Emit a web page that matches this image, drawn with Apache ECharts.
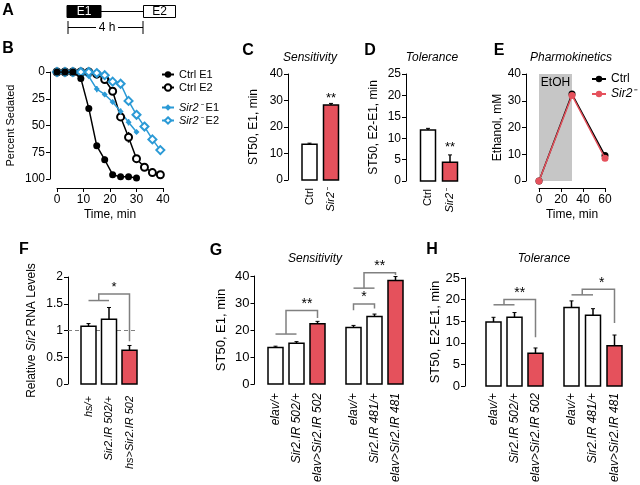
<!DOCTYPE html>
<html><head><meta charset="utf-8">
<script src="https://cdn.jsdelivr.net/npm/echarts@6/dist/echarts.min.js"></script>
<style>html,body{margin:0;padding:0;background:#fff}#c{width:640px;height:485px}</style>
</head><body><div id="c"></div>
<script>
// ---------------- DATA ----------------
// Panel B: percent sedated over time
const bTime = [0,3,6,9,12,15,18,21,24,27,30,33,36,39];
const bCtrlE1 = [0,0,0,6,34,69,82,96,98,98,99];
const bCtrlE1Err = [0,0,0,1,2,2,3,1,0,0,0];
const bCtrlE2 = [0,0,0,0,0,2,7,18,42,61,81,89,94,96];
const bCtrlE2Err = [0,0,0,0,0,0,1,2,2,5,2,1,1,1];
const bSirE1 = [0,0,0,2,4,16,21,28,37,47,56];
const bSirE1Err = [0,0,0,1,1,3,2,2,3,3,2];
const bSirE2 = [0,0,0,0,0,1,3,9,11,27,40,51,63,73];
const bSirE2Err = [0,0,0,0,0,0,1,1,1,2,2,2,2,4];
const bXTicks = [0,10,20,30,40];
const bYTicks = [0,25,50,75,100];
// Panel C: sensitivity
const cCats = ['Ctrl','Sir2⁻'];
const cMean = [13.5, 28.3];
const cErr = [0.4, 0.6];
const cStars = [[1, 30.8, '**']];
// Panel D: tolerance
const dCats = ['Ctrl','Sir2⁻'];
const dMean = [11.9, 4.4];
const dErr = [0.4, 1.7];
const dStars = [[1, 7.9, '**']];
// Panel E: pharmacokinetics
const eTime = [0,30,60];
const eCtrl = [0,32.5,9.5];
const eSir = [0,32,8.5];
const eEtohWindow = [0,30];
// Panel F: relative Sir2 RNA
const fCats = ['hs/+','Sir2.IR 502/+','hs>Sir2.IR 502'];
const fMean = [1.08, 1.21, 0.63];
const fErr = [0.05, 0.22, 0.09];
const fRef = 1;
const fBrackets = [[[0,1.56],[1,1.56]], [[0.5,1.56],[0.5,1.68],[2,1.68],[2,0.80]]];
const fStars = [[1.25, 1.80, '*']];
// Panel G: sensitivity
const gCats1 = ['elav/+','Sir2.IR 502/+','elav>Sir2.IR 502'];
const gMean1 = [13.5, 15.1, 22.3];
const gErr1 = [0.5, 0.6, 0.9];
const gCats2 = ['elav/+','Sir2.IR 481/+','elav>Sir2.IR 481'];
const gMean2 = [20.9, 25.0, 38.3];
const gErr2 = [0.8, 0.9, 1.5];
const gBrackets1 = [[[0,18.5],[1,18.5]], [[0.5,18.5],[0.5,27.2],[2,27.2],[2,24.4]]];
const gStars1 = [[1.5, 29.6, '**']];
const gBrackets2 = [[[0,27.3],[0,29.6],[1,29.6],[1,28.0]], [[0,35.5],[1,35.5]], [[0.5,35.5],[0.5,41.2],[2,41.2],[2,40.4]]];
const gStars2 = [[0.5, 32.0, '*'], [1.25, 43.6, '**']];
// Panel H: tolerance
const hCats1 = ['elav/+','Sir2.IR 502/+','elav>Sir2.IR 502'];
const hMean1 = [14.8, 15.9, 7.6];
const hErr1 = [1.1, 1.1, 1.2];
const hCats2 = ['elav/+','Sir2.IR 481/+','elav>Sir2.IR 481'];
const hMean2 = [18.2, 16.4, 9.3];
const hErr2 = [1.5, 1.5, 2.5];
const hBrackets1 = [[[0,18.8],[1,18.8]], [[0.5,18.8],[0.5,20.0],[2,20.0],[2,11.3]]];
const hStars1 = [[1.25, 21.6, '**']];
const hBrackets2 = [[[0,21.1],[1,21.1]], [[0.5,21.1],[0.5,22.4],[2,22.4],[2,14.6]]];
const hStars2 = [[1.4, 23.9, '*']];

// ---------------- STYLE ----------------
const FF = '"Liberation Sans", Arial, Helvetica, sans-serif';
const BLUE = '#2b9ad6';
const RED = '#e5515c';
const GREY = '#808080';

function rich(fs){ return {i:{fontStyle:'italic', fontSize:fs, fontFamily:FF, color:'#000'}, n:{fontSize:fs, fontFamily:FF, color:'#000'}}; }
function lab(name){ return name === 'Ctrl' ? name : '{i|' + name + '}'; }

function valY(gi, min, max, interval, name, gap, fs, extra){
  return Object.assign({
    type:'value', gridIndex:gi, min:min, max:max, interval:interval,
    name:name, nameLocation:'middle', nameGap:gap, nameRotate:90,
    nameTextStyle:{fontSize:fs, color:'#000', fontFamily:FF, rich:rich(fs)},
    axisLine:{show:true, onZero:false, lineStyle:{color:'#000', width:1}},
    axisTick:{show:true, length:4, lineStyle:{color:'#000', width:1}},
    axisLabel:{fontSize:fs, color:'#000', fontFamily:FF, margin:5},
    splitLine:{show:false}
  }, extra || {});
}
function catX(gi, cats, max, fs, margin){
  return {
    type:'value', gridIndex:gi, min:-1, max:max, interval:1,
    axisLine:{show:false, onZero:false}, axisTick:{show:false}, splitLine:{show:false},
    axisLabel:{rotate:90, margin:margin, fontSize:fs, color:'#000', fontFamily:FF,
      rich:rich(fs),
      formatter:function(v){ return (Number.isInteger(v) && cats[v] !== undefined) ? lab(cats[v]) : ''; }}
  };
}
function barRender(params, api){
  const x = api.value(0), v = api.value(1), e = api.value(2), red = api.value(3);
  const top = api.coord([x, v]), base = api.coord([x, 0]), et = api.coord([x, v + e]);
  const w = 15;
  return {type:'group', children:[
    {type:'line', shape:{x1:top[0], y1:top[1], x2:et[0], y2:et[1]}, style:{stroke:'#000', lineWidth:1.5}},
    {type:'line', shape:{x1:et[0]-2, y1:et[1], x2:et[0]+2, y2:et[1]}, style:{stroke:'#000', lineWidth:1}},
    {type:'rect', shape:{x:top[0]-w/2, y:top[1], width:w, height:base[1]-top[1]},
     style:{fill: red ? RED : '#fff', stroke:'#000', lineWidth:1.5}}
  ]};
}
function barSeries(i, means, errs){
  return {type:'custom', xAxisIndex:i, yAxisIndex:i, z:3, silent:true,
    data: means.map(function(m,k){ return [k, m, errs[k], k === means.length-1 ? 1 : 0]; }),
    renderItem: barRender};
}
function bracketSeries(i, paths){
  return {type:'custom', xAxisIndex:i, yAxisIndex:i, z:2, silent:true, data:[[0,0]],
    renderItem:function(p, api){
      return {type:'group', children: paths.map(function(path){
        return {type:'polyline', shape:{points:path.map(function(pt){ return api.coord(pt); })},
          style:{stroke:GREY, lineWidth:1.5, fill:null}};
      })};
    }};
}
function starSeries(i, stars, fs){
  return {type:'custom', xAxisIndex:i, yAxisIndex:i, z:4, silent:true,
    data: stars.map(function(s,k){ return [s[0], s[1], k]; }),
    renderItem:function(p, api){
      const c = api.coord([api.value(0), api.value(1)]);
      const t = stars[api.value(2)][2];
      return {type:'text', x:c[0], y:c[1], style:{text:t, font:fs+'px '+FF, fill:'#000',
        align:'center', verticalAlign:'middle', textAlign:'center', textVerticalAlign:'middle'}};
    }};
}
function errSeries(i, xs, ys, es, color){
  return {type:'custom', xAxisIndex:i, yAxisIndex:i, z:1, silent:true,
    data: ys.map(function(y,k){ return [xs[k], y, es[k]]; }).filter(function(d){ return d[2] > 0; }),
    renderItem:function(p, api){
      const x = api.value(0), y = api.value(1), e = api.value(2);
      const a = api.coord([x, y - e]), b = api.coord([x, y + e]);
      return {type:'line', shape:{x1:a[0], y1:a[1], x2:b[0], y2:b[1]}, style:{stroke:color, lineWidth:1.5}};
    }};
}
function gtext(x, y, text, font, align){
  return {type:'text', x:x, y:y, silent:true, style:{text:text, font:font, fill:'#000',
    align:align||'center', verticalAlign:'middle', textAlign:align||'center', textVerticalAlign:'middle'}};
}

const grid = [
  {left:57, top:72, width:106, height:107},      // 0 B
  {left:288, top:74, width:55.9, height:106},    // 1 C
  {left:406, top:74, width:57.2, height:107},    // 2 D
  {left:539, top:74, width:66, height:107},      // 3 E
  {left:68, top:277, width:71.75, height:107},   // 4 F
  {left:254.5, top:276, width:75.6, height:108}, // 5 G1
  {left:332.5, top:276, width:75.6, height:108}, // 6 G2
  {left:472.5, top:278, width:75.6, height:108}, // 7 H1
  {left:550, top:278, width:77.4, height:108}    // 8 H2
].map(function(g){ g.outerBoundsMode = 'none'; g.containLabel = false; return g; });

const xAxis = [
  {type:'value', gridIndex:0, position:'bottom', min:bXTicks[0], max:bXTicks[bXTicks.length-1], interval:bXTicks[1]-bXTicks[0], offset:9,
   name:'Time, min', nameLocation:'middle', nameGap:21, nameTextStyle:{fontSize:12, color:'#000', fontFamily:FF},
   axisLine:{onZero:false, lineStyle:{color:'#000'}}, axisTick:{length:4, lineStyle:{color:'#000'}},
   axisLabel:{fontSize:12, color:'#000', fontFamily:FF, margin:6}, splitLine:{show:false}},
  catX(1, cCats, 1.6, 11, 8),
  catX(2, dCats, 1.6, 11, 8),
  {type:'value', gridIndex:3, position:'bottom', min:0, max:60, interval:20, offset:7,
   name:'Time, min', nameLocation:'middle', nameGap:21, nameTextStyle:{fontSize:12, color:'#000', fontFamily:FF},
   axisLine:{onZero:false, lineStyle:{color:'#000'}}, axisTick:{length:4, lineStyle:{color:'#000'}},
   axisLabel:{fontSize:12, color:'#000', fontFamily:FF, margin:6}, splitLine:{show:false}},
  catX(4, fCats, 2.5, 11, 12),
  catX(5, gCats1, 2.6, 12, 9),
  catX(6, gCats2, 2.6, 12, 9),
  catX(7, hCats1, 2.6, 12, 7),
  catX(8, hCats2, 2.6, 12, 7)
];

const yAxis = [
  valY(0, bYTicks[0], bYTicks[bYTicks.length-1], bYTicks[1]-bYTicks[0], 'Percent Sedated', 34, 11, {inverse:true, offset:7, axisLabel:{fontSize:12, color:'#000', fontFamily:FF, margin:5}}),
  valY(1, 0, 40, 10, 'ST50, E1, min', 28, 12),
  valY(2, 0, 25, 5, 'ST50, E2-E1, min', 26, 12),
  valY(3, 0, 40, 10, 'Ethanol, mM', 21, 12, {offset:13}),
  valY(4, 0, 2, 0.5, 'Relative {i|Sir2} RNA Levels', 30, 12),
  valY(5, 0, 40, 10, 'ST50, E1, min', 27, 13),
  valY(6, 0, 40, 10, '', 0, 13, {show:false}),
  valY(7, 0, 25, 5, 'ST50, E2-E1, min', 20, 13, {offset:7.5}),
  valY(8, 0, 25, 5, '', 0, 13, {show:false})
];

function pairs(xs, ys){ return ys.map(function(y,k){ return [xs[k], y]; }); }
function legendFmt(name){ return name.replace(/^(Sir2⁻)/, '{i|$1}'); }
const legendText = {fontSize:11, color:'#000', fontFamily:FF, rich:rich(11)};

const series = [
  // B
  errSeries(0, bTime, bCtrlE1, bCtrlE1Err, '#000'),
  errSeries(0, bTime, bCtrlE2, bCtrlE2Err, '#000'),
  errSeries(0, bTime, bSirE1, bSirE1Err, BLUE),
  errSeries(0, bTime, bSirE2, bSirE2Err, BLUE),
  {type:'line', name:'Ctrl E1', xAxisIndex:0, yAxisIndex:0, data:pairs(bTime, bCtrlE1), symbol:'circle', symbolSize:7,
   itemStyle:{color:'#000'}, lineStyle:{color:'#000', width:1.5}, z:5},
  {type:'line', name:'Ctrl E2', xAxisIndex:0, yAxisIndex:0, data:pairs(bTime, bCtrlE2), symbol:'emptyCircle', symbolSize:7,
   itemStyle:{color:'#000', borderWidth:1.5}, lineStyle:{color:'#000', width:1.5}, z:4},
  {type:'line', name:'Sir2⁻ E1', xAxisIndex:0, yAxisIndex:0, data:pairs(bTime, bSirE1), symbol:'diamond', symbolSize:6,
   itemStyle:{color:BLUE}, lineStyle:{color:BLUE, width:1.5}, z:4},
  {type:'line', name:'Sir2⁻ E2', xAxisIndex:0, yAxisIndex:0, data:pairs(bTime, bSirE2), symbol:'emptyDiamond', symbolSize:8,
   itemStyle:{color:BLUE, borderWidth:1.5}, lineStyle:{color:BLUE, width:1.5}, z:4},
  // C
  barSeries(1, cMean, cErr), starSeries(1, cStars, 13),
  // D
  barSeries(2, dMean, dErr), starSeries(2, dStars, 13),
  // E
  {type:'line', name:'Ctrl', xAxisIndex:3, yAxisIndex:3, data:pairs(eTime, eCtrl), symbol:'circle', symbolSize:7,
   itemStyle:{color:'#000'}, lineStyle:{color:'#000', width:1.5}, z:3,
   markArea:{silent:true, itemStyle:{color:'#c6c6c6'},
     label:{show:true, position:'insideTop', distance:3, formatter:'EtOH', color:'#000', fontSize:12, fontFamily:FF},
     data:[[{xAxis:eEtohWindow[0], yAxis:40}, {xAxis:eEtohWindow[1], yAxis:0}]]}},
  {type:'line', name:'Sir2⁻', xAxisIndex:3, yAxisIndex:3, data:pairs(eTime, eSir), symbol:'circle', symbolSize:7,
   itemStyle:{color:RED}, lineStyle:{color:RED, width:1.5}, z:4},
  // F
  {type:'custom', xAxisIndex:4, yAxisIndex:4, z:1, silent:true, data:[[0, fRef]],
   renderItem:function(p, api){
     const cs = p.coordSys; const c = api.coord([fCats.length-1, api.value(1)]);
     return {type:'line', shape:{x1:cs.x, y1:c[1], x2:c[0]+7, y2:c[1]}, style:{stroke:GREY, lineWidth:1.2, lineDash:[4,3]}};
   }},
  barSeries(4, fMean, fErr), bracketSeries(4, fBrackets), starSeries(4, fStars, 13),
  // G
  barSeries(5, gMean1, gErr1), bracketSeries(5, gBrackets1), starSeries(5, gStars1, 14),
  barSeries(6, gMean2, gErr2), bracketSeries(6, gBrackets2), starSeries(6, gStars2, 14),
  // H
  barSeries(7, hMean1, hErr1), bracketSeries(7, hBrackets1), starSeries(7, hStars1, 14),
  barSeries(8, hMean2, hErr2), bracketSeries(8, hBrackets2), starSeries(8, hStars2, 14)
];

const legend = [
  {data:['Ctrl E1','Ctrl E2'], left:161, top:69, orient:'vertical', itemGap:2, itemWidth:12, itemHeight:8,
   selectedMode:false, textStyle:legendText, formatter:legendFmt, padding:0},
  {data:['Sir2⁻ E1','Sir2⁻ E2'], left:161, top:102, orient:'vertical', itemGap:2, itemWidth:12, itemHeight:8,
   selectedMode:false, textStyle:legendText, formatter:legendFmt, padding:0},
  {data:['Ctrl','Sir2⁻'], left:591, top:73, orient:'vertical', itemGap:3, itemWidth:14, itemHeight:8,
   selectedMode:false, textStyle:{fontSize:12, color:'#000', fontFamily:FF, rich:rich(12)}, formatter:legendFmt, padding:0}
];

const LF = 'bold 16px ' + FF;
const TF = 'italic 12px ' + FF;
const graphic = [
  gtext(8, 11, 'A', LF), gtext(8, 49, 'B', LF), gtext(248, 51, 'C', LF), gtext(370, 51, 'D', LF),
  gtext(499, 51, 'E', LF), gtext(24, 250, 'F', LF), gtext(216, 251, 'G', LF), gtext(432, 250, 'H', LF),
  gtext(310, 58, 'Sensitivity', TF), gtext(432, 58, 'Tolerance', TF), gtext(571, 58, 'Pharmokinetics', TF),
  gtext(315, 259, 'Sensitivity', TF), gtext(544, 259, 'Tolerance', TF),
  // Panel A schematic
  {type:'rect', shape:{x:67, y:5.5, width:34, height:12}, style:{fill:'#000', stroke:'#000', lineWidth:1}, silent:true},
  {type:'text', x:84, y:11.5, silent:true, style:{text:'E1', font:'12px '+FF, fill:'#fff', align:'center', verticalAlign:'middle', textAlign:'center', textVerticalAlign:'middle'}},
  {type:'line', shape:{x1:101, y1:11.5, x2:143, y2:11.5}, style:{stroke:'#000', lineWidth:1}, silent:true},
  {type:'rect', shape:{x:143.5, y:5.5, width:32, height:12}, style:{fill:'#fff', stroke:'#000', lineWidth:1}, silent:true},
  gtext(159.5, 11.5, 'E2', '12px ' + FF),
  {type:'line', shape:{x1:68, y1:21, x2:68, y2:34}, style:{stroke:'#000', lineWidth:1}, silent:true},
  {type:'line', shape:{x1:143, y1:21, x2:143, y2:34}, style:{stroke:'#000', lineWidth:1}, silent:true},
  {type:'line', shape:{x1:68, y1:27.5, x2:96, y2:27.5}, style:{stroke:'#000', lineWidth:1}, silent:true},
  {type:'line', shape:{x1:118, y1:27.5, x2:143, y2:27.5}, style:{stroke:'#000', lineWidth:1}, silent:true},
  gtext(107, 27.5, '4 h', '12px ' + FF)
];

const chart = echarts.init(document.getElementById('c'), null, {renderer:'canvas'});
chart.setOption({animation:false, backgroundColor:'#fff', grid:grid, xAxis:xAxis, yAxis:yAxis,
  series:series, legend:legend, graphic:graphic, tooltip:{show:false}});
</script></body></html>
